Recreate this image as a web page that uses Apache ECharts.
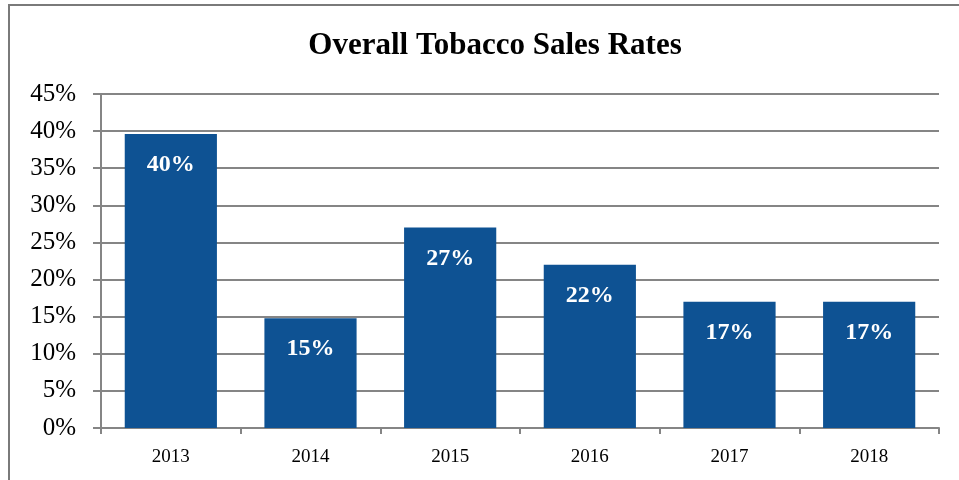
<!DOCTYPE html>
<html>
<head>
<meta charset="utf-8">
<script src="https://cdn.jsdelivr.net/npm/echarts@6/dist/echarts.min.js"></script>
<style>
  html, body { margin: 0; padding: 0; background: #fff; }
  #chart { width: 959px; height: 480px; }
</style>
</head>
<body>
<div id="chart"></div>
<script>
// Sales rates by year (percent)
const years = ['2013', '2014', '2015', '2016', '2017', '2018'];
const salesRates = [39.6, 14.8, 27, 22, 17, 17];
const yTicks = [0, 5, 10, 15, 20, 25, 30, 35, 40, 45];

const serif = '"Liberation Serif", "DejaVu Serif", serif';
const gridGray = '#858585';

const chart = echarts.init(document.getElementById('chart'));
chart.setOption({
  animation: false,
  title: {
    text: 'Overall Tobacco Sales Rates',
    left: 490,
    textAlign: 'center',
    top: 25,
    textStyle: { fontFamily: serif, fontSize: 31, fontWeight: 'bold', color: '#000' }
  },
  graphic: [{
    type: 'polyline',
    shape: { points: [[9, 480], [9, 5], [959, 5]] },
    style: { stroke: '#7a7a7a', lineWidth: 2, fill: null }
  }],
  grid: { left: 101, right: 20, top: 94, bottom: 52 },
  xAxis: {
    type: 'category',
    data: years,
    axisLine: { lineStyle: { color: gridGray, width: 2 } },
    axisTick: { show: true, length: 6, lineStyle: { color: gridGray, width: 2 } },
    axisLabel: { margin: 20, fontFamily: serif, fontSize: 19, color: '#000' }
  },
  yAxis: {
    type: 'value',
    min: yTicks[0],
    max: yTicks[yTicks.length - 1],
    interval: 5,
    axisLine: { show: true, lineStyle: { color: gridGray, width: 2 } },
    axisTick: { show: true, length: 8, lineStyle: { color: gridGray, width: 2 } },
    splitLine: { lineStyle: { color: gridGray, width: 2 } },
    axisLabel: { margin: 25, fontFamily: serif, fontSize: 25, color: '#000', formatter: '{value}%' }
  },
  series: [{
    type: 'bar',
    data: salesRates,
    barWidth: '66%',
    itemStyle: { color: '#0e5293' },
    label: {
      show: true,
      position: 'insideTop',
      distance: 19,
      fontFamily: serif,
      fontSize: 24,
      fontWeight: 'bold',
      color: '#fff',
      formatter: p => Math.round(p.value) + '%'
    }
  }]
});
</script>
</body>
</html>
